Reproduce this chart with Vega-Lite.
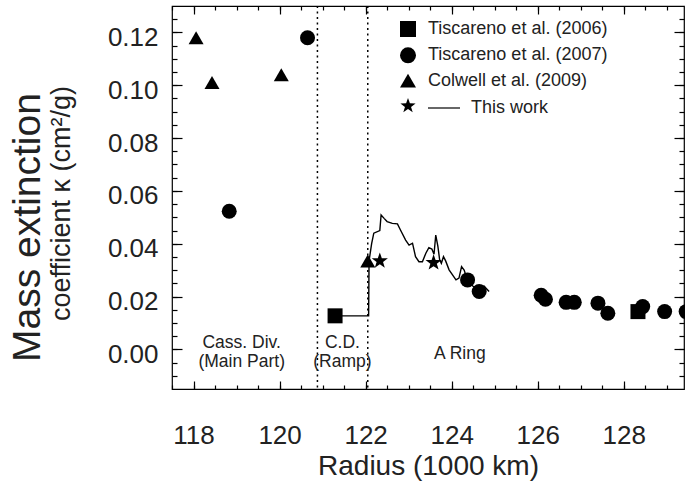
{
  "$schema": "https://vega.github.io/schema/vega-lite/v6.json",
  "width": 512,
  "height": 383,
  "autosize": {"type": "none"},
  "padding": {"left": 172, "top": 6, "right": 1, "bottom": 104},
  "background": "white",
  "config": {
    "view": {"stroke": "black", "strokeWidth": 1.2},
    "font": "Liberation Sans",
    "axis": {"domain": false, "grid": false, "ticks": true, "tickColor": "black", "tickOpacity": 1, "tickWidth": 1.2, "labelColor": "#222", "titleColor": "#222", "labelFont": "Liberation Sans", "titleFont": "Liberation Sans", "titleFontWeight": "normal"}
  },
  "datasets": {
    "points": [
      {"series": "Colwell et al. (2009)", "r": 118.06, "k": 0.118},
      {"series": "Colwell et al. (2009)", "r": 118.43, "k": 0.101},
      {"series": "Colwell et al. (2009)", "r": 120.04, "k": 0.104},
      {"series": "Colwell et al. (2009)", "r": 122.05, "k": 0.0335},
      {"series": "Tiscareno et al. (2007)", "r": 120.65, "k": 0.118},
      {"series": "Tiscareno et al. (2007)", "r": 118.83, "k": 0.0523},
      {"series": "Tiscareno et al. (2007)", "r": 124.37, "k": 0.0263},
      {"series": "Tiscareno et al. (2007)", "r": 124.64, "k": 0.0219},
      {"series": "Tiscareno et al. (2007)", "r": 126.08, "k": 0.0205},
      {"series": "Tiscareno et al. (2007)", "r": 126.18, "k": 0.019},
      {"series": "Tiscareno et al. (2007)", "r": 126.66, "k": 0.0178},
      {"series": "Tiscareno et al. (2007)", "r": 126.85, "k": 0.0178},
      {"series": "Tiscareno et al. (2007)", "r": 127.4, "k": 0.0175},
      {"series": "Tiscareno et al. (2007)", "r": 127.63, "k": 0.0137},
      {"series": "Tiscareno et al. (2007)", "r": 128.44, "k": 0.0162},
      {"series": "Tiscareno et al. (2007)", "r": 128.95, "k": 0.0143},
      {"series": "Tiscareno et al. (2007)", "r": 129.45, "k": 0.0143},
      {"series": "Tiscareno et al. (2006)", "r": 121.29, "k": 0.0127},
      {"series": "Tiscareno et al. (2006)", "r": 128.33, "k": 0.0143}
    ],
    "stars": [
      {"r": 122.33, "k": 0.0335},
      {"r": 123.58, "k": 0.0328}
    ],
    "profile": [
      {"series": "This work", "r": 121.29, "k": 0.0127},
      {"series": "This work", "r": 122.07, "k": 0.0127},
      {"series": "This work", "r": 122.08, "k": 0.0335},
      {"series": "This work", "r": 122.14, "k": 0.04},
      {"series": "This work", "r": 122.19, "k": 0.044},
      {"series": "This work", "r": 122.33, "k": 0.045},
      {"series": "This work", "r": 122.36, "k": 0.0509},
      {"series": "This work", "r": 122.43, "k": 0.0496},
      {"series": "This work", "r": 122.5, "k": 0.0484},
      {"series": "This work", "r": 122.62, "k": 0.0477},
      {"series": "This work", "r": 122.74, "k": 0.0475},
      {"series": "This work", "r": 122.81, "k": 0.0452},
      {"series": "This work", "r": 122.93, "k": 0.0414},
      {"series": "This work", "r": 123.01, "k": 0.0395},
      {"series": "This work", "r": 123.09, "k": 0.0402},
      {"series": "This work", "r": 123.16, "k": 0.0351},
      {"series": "This work", "r": 123.24, "k": 0.0332},
      {"series": "This work", "r": 123.32, "k": 0.0332},
      {"series": "This work", "r": 123.4, "k": 0.0364},
      {"series": "This work", "r": 123.47, "k": 0.0385},
      {"series": "This work", "r": 123.54, "k": 0.038},
      {"series": "This work", "r": 123.59, "k": 0.036},
      {"series": "This work", "r": 123.63, "k": 0.0433},
      {"series": "This work", "r": 123.68, "k": 0.039},
      {"series": "This work", "r": 123.72, "k": 0.034},
      {"series": "This work", "r": 123.76, "k": 0.0326},
      {"series": "This work", "r": 123.81, "k": 0.0351},
      {"series": "This work", "r": 123.86, "k": 0.0335},
      {"series": "This work", "r": 123.94, "k": 0.0301},
      {"series": "This work", "r": 124.02, "k": 0.0282},
      {"series": "This work", "r": 124.1, "k": 0.0263},
      {"series": "This work", "r": 124.17, "k": 0.027},
      {"series": "This work", "r": 124.23, "k": 0.0313},
      {"series": "This work", "r": 124.29, "k": 0.03},
      {"series": "This work", "r": 124.35, "k": 0.027},
      {"series": "This work", "r": 124.49, "k": 0.024},
      {"series": "This work", "r": 124.63, "k": 0.0225},
      {"series": "This work", "r": 124.75, "k": 0.024},
      {"series": "This work", "r": 124.87, "k": 0.0219}
    ],
    "bounds": [{"r": 120.88}, {"r": 122.05}],
    "regions": [
      {"r": 119.12, "k": 0.006, "label": "Cass. Div.\n(Main Part)"},
      {"r": 121.46, "k": 0.006, "label": "C.D.\n(Ramp)"},
      {"r": 124.19, "k": 0.0016, "label": "A Ring"}
    ]
  },
  "layer": [
    {
      "data": {"name": "points"},
      "mark": {"type": "point", "filled": true, "size": 225, "color": "black", "opacity": 1},
      "encoding": {
        "x": {"field": "r", "type": "quantitative", "scale": {"domain": [117.5, 129.4], "nice": false, "zero": false},
          "axis": {"orient": "bottom", "offset": -8, "values": [118, 120, 122, 124, 126, 128], "tickSize": 8, "labelFontSize": 26, "labelPadding": 33, "labelFlush": false, "labelOverlap": false, "title": "Radius (1000 km)", "titleFontSize": 28, "titleY": 93, "titleBaseline": "alphabetic"}},
        "y": {"field": "k", "type": "quantitative", "scale": {"domain": [-0.015, 0.13], "nice": false, "zero": false},
          "axis": {"orient": "left", "offset": -10, "values": [0, 0.02, 0.04, 0.06, 0.08, 0.1, 0.12], "format": ".2f", "tickSize": 10, "labelFontSize": 26, "labelPadding": 14, "labelOffset": 5, "labelFlush": false, "labelOverlap": false, "title": "Mass extinction", "titleFontSize": 39, "titleX": -143, "titleY": 221, "titleAngle": 270, "titleAlign": "center", "titleBaseline": "alphabetic"}},
        "shape": {"field": "series", "type": "nominal",
          "scale": {"domain": ["Tiscareno et al. (2006)", "Tiscareno et al. (2007)", "Colwell et al. (2009)", "This work"],
            "range": ["square", "circle", "triangle-up", "M0,-1L0.2351,-0.3236L0.9511,-0.309L0.3804,0.1236L0.5878,0.809L0,0.4L-0.5878,0.809L-0.3804,0.1236L-0.9511,-0.309L-0.2351,-0.3236Z"]},
          "legend": {"orient": "none", "legendX": 227, "legendY": 14, "title": null, "padding": 0, "rowPadding": 6.3, "labelFontSize": 18, "labelFont": "Liberation Sans", "labelColor": "#222", "labelLimit": 400, "symbolSize": 256, "labelOffset": 11, "symbolFillColor": "black", "symbolStrokeColor": "black", "symbolStrokeWidth": 1, "symbolOpacity": 1,
            "labelExpr": "datum.label == 'This work' ? '' : datum.label"}}
      }
    },
    {
      "data": {"name": "profile"},
      "mark": {"type": "line", "strokeWidth": 1.4},
      "encoding": {
        "x": {"field": "r", "type": "quantitative", "scale": {"domain": [117.5, 129.4], "nice": false, "zero": false},
          "axis": {"orient": "bottom", "offset": -4, "values": [117.5, 118, 118.5, 119, 119.5, 120, 120.5, 121, 121.5, 122, 122.5, 123, 123.5, 124, 124.5, 125, 125.5, 126, 126.5, 127, 127.5, 128, 128.5, 129], "tickSize": 4, "labels": false, "title": null}},
        "y": {"field": "k", "type": "quantitative", "scale": {"domain": [-0.015, 0.13], "nice": false, "zero": false},
          "axis": {"orient": "left", "offset": -5, "values": [-0.01, -0.005, 0, 0.005, 0.01, 0.015, 0.02, 0.025, 0.03, 0.035, 0.04, 0.045, 0.05, 0.055, 0.06, 0.065, 0.07, 0.075, 0.08, 0.085, 0.09, 0.095, 0.1, 0.105, 0.11, 0.115, 0.12, 0.125], "tickSize": 5, "labels": false, "title": "coefficient κ (cm²/g)", "titleFontSize": 27, "titleX": -108, "titleY": 197, "titleAngle": 270, "titleAlign": "center", "titleBaseline": "alphabetic"}},
        "color": {"field": "series", "type": "nominal", "scale": {"domain": ["This work"], "range": ["black"]},
          "legend": {"orient": "none", "legendX": 255, "legendY": 85, "title": null, "padding": 0, "symbolType": "stroke", "symbolSize": 1024, "symbolStrokeWidth": 1.2, "symbolStrokeColor": "black", "labelOffset": 10, "labelFontSize": 18, "labelFont": "Liberation Sans", "labelColor": "#222", "labelLimit": 400}}
      }
    },
    {
      "data": {"name": "stars"},
      "mark": {"type": "point", "filled": true, "size": 289, "color": "black", "opacity": 1, "shape": "M0,-1L0.2351,-0.3236L0.9511,-0.309L0.3804,0.1236L0.5878,0.809L0,0.4L-0.5878,0.809L-0.3804,0.1236L-0.9511,-0.309L-0.2351,-0.3236Z"},
      "encoding": {
        "x": {"field": "r", "type": "quantitative", "scale": {"domain": [117.5, 129.4], "nice": false, "zero": false},
          "axis": {"orient": "top", "offset": -8, "values": [118, 120, 122, 124, 126, 128], "tickSize": 8, "labels": false, "title": null}},
        "y": {"field": "k", "type": "quantitative", "scale": {"domain": [-0.015, 0.13], "nice": false, "zero": false},
          "axis": {"orient": "right", "offset": -10, "values": [0, 0.02, 0.04, 0.06, 0.08, 0.1, 0.12], "tickSize": 10, "labels": false, "title": null}}
      }
    },
    {
      "data": {"name": "bounds"},
      "mark": {"type": "rule", "color": "black", "strokeWidth": 1.5, "strokeDash": [2, 3.5]},
      "encoding": {
        "x": {"field": "r", "type": "quantitative", "scale": {"domain": [117.5, 129.4], "nice": false, "zero": false},
          "axis": {"orient": "top", "offset": -4, "values": [117.5, 118, 118.5, 119, 119.5, 120, 120.5, 121, 121.5, 122, 122.5, 123, 123.5, 124, 124.5, 125, 125.5, 126, 126.5, 127, 127.5, 128, 128.5, 129], "tickSize": 4, "labels": false, "title": null}}
      }
    },
    {
      "data": {"name": "regions"},
      "mark": {"type": "text", "font": "Liberation Sans", "fontSize": 17.5, "lineHeight": 19, "lineBreak": "\n", "align": "center", "baseline": "top", "color": "#222"},
      "encoding": {
        "x": {"field": "r", "type": "quantitative", "scale": {"domain": [117.5, 129.4], "nice": false, "zero": false}, "axis": null},
        "y": {"field": "k", "type": "quantitative", "scale": {"domain": [-0.015, 0.13], "nice": false, "zero": false},
          "axis": {"orient": "right", "offset": -5, "values": [-0.01, -0.005, 0, 0.005, 0.01, 0.015, 0.02, 0.025, 0.03, 0.035, 0.04, 0.045, 0.05, 0.055, 0.06, 0.065, 0.07, 0.075, 0.08, 0.085, 0.09, 0.095, 0.1, 0.105, 0.11, 0.115, 0.12, 0.125], "tickSize": 5, "labels": false, "title": null}},
        "text": {"field": "label"}
      }
    }
  ],
  "resolve": {"axis": {"x": "independent", "y": "independent"}}
}
